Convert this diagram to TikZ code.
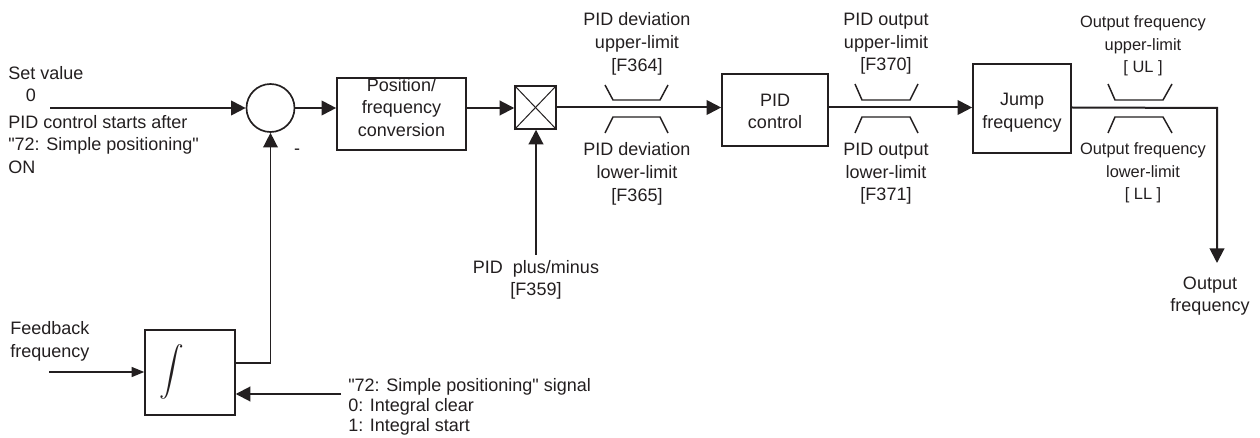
\documentclass[tikz,border=0pt]{standalone}
\usepackage{fontspec}
\setmainfont{Liberation Sans}
\usetikzlibrary{arrows.meta,fit,calc}
\definecolor{ink}{RGB}{35,31,32}
\newcommand{\sq}{\XeTeXglyph\XeTeXglyphindex "quotedbl"\relax}
\begin{document}
\begin{tikzpicture}[x=0.75pt,y=-0.75pt,
  box/.style={draw=ink, line width=1.25pt, inner sep=0pt, align=center, text=ink,
    font=\fontsize{13.5}{17}\selectfont},
  mainline/.style={draw=ink, line width=1.5pt},
  thinline/.style={draw=ink, line width=1.05pt},
  arr/.style={-{Triangle[length=11pt,width=11pt]}},
  sarr/.style={-{Triangle[length=9.5pt,width=7.5pt]}},
  lim/.style={draw=ink, line width=1.1pt},
  lbl/.style={align=center, text=ink, inner sep=0pt, font=\fontsize{13.5}{17}\selectfont},
  olbl/.style={align=center, text=ink, inner sep=0pt, font=\fontsize{12.3}{16.8}\selectfont},
  llbl/.style={align=left, text=ink, inner sep=0pt, anchor=west, font=\fontsize{13.5}{17}\selectfont}
]
\useasboundingbox[fill=white] (0,0) rectangle (1260,438);

% left texts
\node[llbl] (setv) at (8,73) {Set value};
\node[lbl] (zero) at (31,95) {0};
\node[llbl] (start) at (8,144.5) {PID control starts after\\\sq72: Simple positioning\sq\\ON};
\coordinate (sin) at (50,108);

% summing junction
\node[circle, draw=ink, line width=1.25pt, minimum size=36pt, inner sep=0pt] (circ) at (270.5,108) {};
\node[lbl] (minus) at (297,152) {-};

% blocks
\node[box, fit={(337,78)(466,150)}] (pf) {Position/\\frequency\\conversion};
\node[draw=ink, line width=1.1pt, inner sep=0pt, fit={(515,86)(556,129)}] (xb) {};
\draw[ink, line width=0.75pt] (xb.north west) -- (xb.south east) (xb.north east) -- (xb.south west);
\node[box, fit={(722,74)(828,146)}] (pid) {};
\node[lbl] (pidt) at (775,111.5) {PID\\control};
\node[box, fit={(973,64)(1071,153)}] (jump) {};
\node[lbl] (jumpt) at (1022,113) {Jump\\frequency};

% main connectors
\draw[mainline, arr] (sin) -- (circ.west);
\draw[mainline, arr] (circ.east) -- (circ.east -| pf.west);
\draw[mainline, arr] (circ.east -| pf.east) -- (circ.east -| xb.west);
\draw[mainline, arr] (xb.east) -- (xb.east -| pid.west);
\draw[mainline, arr] (xb.east -| pid.east) -- (xb.east -| jump.west);
\coordinate (corner) at (1217,108);
\coordinate (outtip) at (1217,263);
\draw[mainline, arr] (xb.east -| jump.east) -- (corner) -- (outtip);
\node[lbl] (outl) at (1210,296) {Output\\frequency};

% plus/minus
\node[lbl] (pm) at (536,280) {PID\ \ plus/minus\\{[F359]}};
\coordinate (pmtop) at (536,255);
\draw[mainline, arr] (pmtop) -- (pmtop |- xb.south);

% limiter symbols
\draw[lim] (605,85) -- (613,100) -- (660,100) -- (668,85);
\draw[lim] (605,133) -- (613,117) -- (660,117) -- (668,133);
\draw[lim] (855,84) -- (862,100) -- (910,100) -- (918,84);
\draw[lim] (855,133) -- (862,117) -- (910,117) -- (918,133);
\draw[lim] (1108,84) -- (1115,100) -- (1163,100) -- (1172,84);
\draw[lim] (1108,133) -- (1115,117) -- (1163,117) -- (1172,133);

\node[lbl] (devu) at (637,44) {PID deviation\\upper-limit\\{[F364]}};
\node[lbl] (devl) at (637,174) {PID deviation\\lower-limit\\{[F365]}};
\node[lbl] (outu) at (886,44) {PID output\\upper-limit\\{[F370]}};
\node[lbl] (outlo) at (886,174) {PID output\\lower-limit\\{[F371]}};
\node[olbl] (ofu) at (1143,46) {Output frequency\\upper-limit\\{[ UL ]}};
\node[olbl] (ofl) at (1143,173) {Output frequency\\lower-limit\\{[ LL ]}};

% integrator
\node[draw=ink, line width=1.1pt, inner sep=0pt, fit={(145,330)(235,415)}] (integ) {};
\node[text=ink, inner sep=0pt, scale=1.85] (intsym) at (172,372) {$\displaystyle\int$};
\node[llbl] (fb) at (10,341.5) {Feedback\\frequency};
\coordinate (fbin) at (49,372);
\draw[thinline, sarr] (fbin) -- (fbin -| integ.west);
\draw[thinline, arr] ([yshift=7.1pt]integ.east) -| (circ.south);
\coordinate (sigin) at (341,394);
\draw[mainline, arr] (sigin) -- (sigin -| integ.east);
\node[llbl, font=\fontsize{13.5}{15}\selectfont] (sig) at (348,407) {\sq72: Simple positioning\sq{} signal\\0: Integral clear\\1: Integral start};
\end{tikzpicture}
\end{document}
